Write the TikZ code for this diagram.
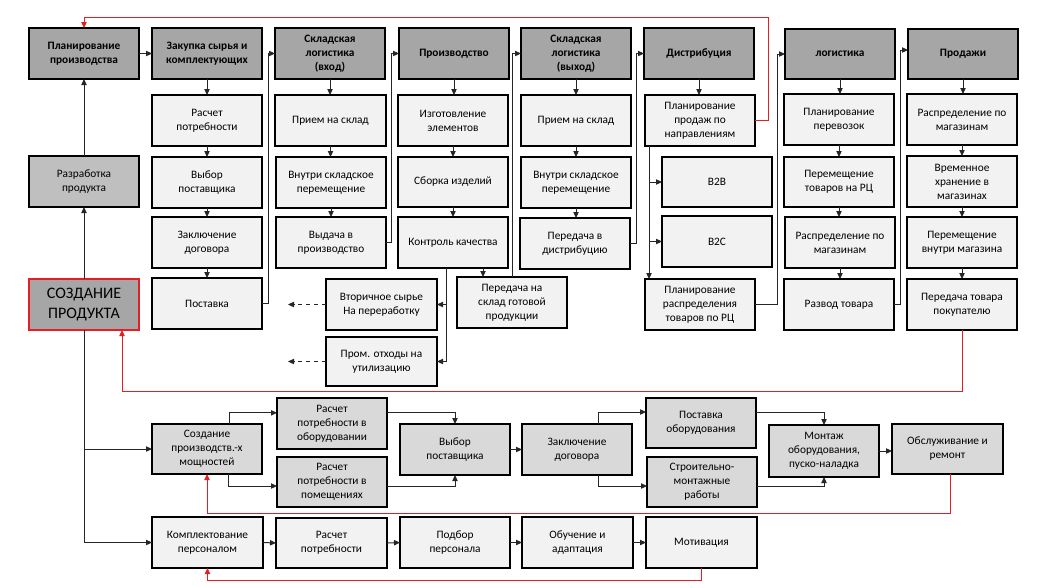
\documentclass[tikz,border=0pt]{standalone}
\usepackage{fontspec}
\setmainfont{Carlito}
\usetikzlibrary{arrows.meta,calc}
\definecolor{hdrgray}{RGB}{166,166,166}
\definecolor{devgray}{RGB}{191,191,191}
\definecolor{midgray}{RGB}{217,217,217}
\definecolor{litegray}{RGB}{242,242,242}
\definecolor{redline}{RGB}{228,30,36}
\newcommand\bx[7]{%
 \pgfmathsetmacro\bxw{(#5-#3)*0.75}%
 \pgfmathsetmacro\bxh{(#6-#4)*0.75}%
 \pgfmathsetmacro\bxx{(#3+#5)/2}%
 \pgfmathsetmacro\bxy{(#4+#6)/2}%
 \node[#2, minimum width=\bxw pt, minimum height=\bxh pt] (#1) at (\bxx,\bxy) {#7};}
\tikzset{
 basebox/.style={draw=black, line width=0.8pt, rectangle, inner sep=1pt, outer sep=0pt, align=center,
   font=\fontsize{8.5}{10.5}\selectfont},
 hdr/.style={basebox, fill=hdrgray, font=\fontsize{8.5}{10.5}\selectfont\bfseries},
 lite/.style={basebox, fill=litegray},
 mid/.style={basebox, fill=midgray},
 dev/.style={basebox, fill=devgray},
 big/.style={basebox, fill=hdrgray, draw=redline, font=\fontsize{12}{15}\selectfont},
 arr/.style={draw=black!85, line width=0.75pt, -{Triangle[length=4.5pt,width=4pt]}},
 redarr/.style={draw=redline, line width=0.75pt, -{Triangle[length=4.5pt,width=4pt]}},
 redln/.style={draw=redline, line width=0.75pt},
}
\begin{document}
\begin{tikzpicture}[x=0.75pt,y=-0.75pt]
\useasboundingbox (0,0) rectangle (1038,587);
% headers
\bx{h1}{hdr}{29}{28}{139}{79}{Планирование\\производства}
\bx{h2}{hdr}{152}{28}{262}{79}{Закупка сырья и\\комплектующих}
\bx{h3}{hdr}{275}{28}{385}{79}{Складская\\логистика\\(вход)}
\bx{h4}{hdr}{399}{28}{509}{79}{Производство}
\bx{h5}{hdr}{521}{28}{631}{79}{Складская\\логистика\\(выход)}
\bx{h6}{hdr}{644}{28}{754}{79}{Дистрибуция}
\bx{h7}{hdr}{785}{29}{895}{79}{логистика}
\bx{h8}{hdr}{908}{29}{1018}{79}{Продажи}
% column Закупка
\bx{a1}{lite}{152}{95}{262}{146}{Расчет\\потребности}
\bx{a2}{lite}{152}{157}{262}{208}{Выбор\\поставщика}
\bx{a3}{lite}{152}{217}{262}{268}{Заключение\\договора}
\bx{a4}{lite}{152}{278}{262}{329}{Поставка}
% column склад вход
\bx{b1}{lite}{275}{95}{386}{146}{Прием на склад}
\bx{b2}{lite}{276}{157}{386}{208}{Внутри складское\\перемещение}
\bx{b3}{lite}{276}{217}{386}{268}{Выдача в\\производство}
% column Производство
\bx{c1}{lite}{398}{95}{508}{146}{Изготовление\\элементов}
\bx{c2}{lite}{398}{157}{508}{207}{Сборка изделий}
\bx{c3}{lite}{398}{217}{508}{268}{Контроль качества}
\bx{c4}{lite}{457}{277}{567}{328}{Передача на\\склад готовой\\продукции}
\bx{c5}{lite}{326}{279}{437}{330}{Вторичное сырье\\На переработку}
\bx{c6}{lite}{326}{337}{437}{386}{Пром. отходы на\\утилизацию}
% column склад выход
\bx{d1}{lite}{521}{95}{631}{146}{Прием на склад}
\bx{d2}{lite}{521}{157}{631}{208}{Внутри складское\\перемещение}
\bx{d3}{lite}{520}{218}{630}{269}{Передача в\\дистрибуцию}
% column Дистрибуция
\bx{e1}{lite}{645}{95}{755}{146}{Планирование\\продаж по\\направлениям}
\bx{e2}{lite}{662}{157}{772}{207}{B2B}
\bx{e3}{lite}{662}{216}{772}{267}{B2C}
\bx{e4}{lite}{645}{279}{755}{330}{Планирование\\распределения\\товаров по РЦ}
% column логистика
\bx{f1}{lite}{784}{94}{894}{145}{Планирование\\перевозок}
\bx{f2}{lite}{784}{157}{894}{207}{Перемещение\\товаров на РЦ}
\bx{f3}{lite}{785}{217}{895}{268}{Распределение по\\магазинам}
\bx{f4}{lite}{784}{279}{894}{330}{Развод товара}
% column Продажи
\bx{g1}{lite}{907}{94}{1017}{145}{Распределение по\\магазинам}
\bx{g2}{lite}{907}{156}{1017}{207}{Временное\\хранение в\\магазинах}
\bx{g3}{lite}{907}{217}{1017}{268}{Перемещение\\внутри магазина}
\bx{g4}{lite}{907}{279}{1017}{330}{Передача товара\\покупателю}
% left column
\bx{L1}{dev}{29}{156}{139}{207}{Разработка\\продукта}
\bx{L2}{big}{29}{279}{139}{330}{СОЗДАНИЕ\\ПРОДУКТА}
% bottom middle row
\bx{m1}{mid}{152}{424}{262}{474}{Создание\\производств.-х\\мощностей}
\bx{m2}{mid}{277}{398}{387}{449}{Расчет\\потребности в\\оборудовании}
\bx{m3}{mid}{277}{457}{387}{507}{Расчет\\потребности в\\помещениях}
\bx{m4}{mid}{400}{424}{510}{475}{Выбор\\поставщика}
\bx{m5}{mid}{522}{424}{632}{475}{Заключение\\договора}
\bx{m6}{mid}{646}{398}{756}{448}{Поставка\\оборудования}
\bx{m7}{mid}{647}{457}{757}{507}{Строительно-\\монтажные\\работы}
\bx{m8}{mid}{769}{425}{879}{477}{Монтаж\\оборудования,\\пуско-наладка}
\bx{m9}{mid}{892}{424}{1003}{474}{Обслуживание и\\ремонт}
% bottom row
\bx{n1}{lite}{152}{517}{263}{568}{Комплектование\\персоналом}
\bx{n2}{lite}{276}{518}{387}{568}{Расчет\\потребности}
\bx{n3}{lite}{400}{517}{510}{568}{Подбор\\персонала}
\bx{n4}{lite}{522}{517}{633}{568}{Обучение и\\адаптация}
\bx{n5}{lite}{646}{517}{757}{568}{Мотивация}

% top flow
\draw[arr] (h1.east) -- (h2.west);
\foreach \u/\v in {h2/a1,a1/a2,a2/a3,a3/a4,h3/b1,b1/b2,b2/b3,h4/c1,c1/c2,c2/c3,h5/d1,d1/d2,d2/d3,h6/e1,h7/f1,f1/f2,f2/f3,f3/f4,h8/g1,g1/g2,g2/g3,g3/g4}
  \draw[arr] (\u.south) -- (\u.south |- \v.north);
\draw[arr] (a4.east) -- ++(6,0) |- (h3.west);
\draw[arr] (b3.east) -- ++(5,0) |- (h4.west);
\draw[arr] (c4.north) |- (h5.west);
\draw[arr] ([xshift=-21.75pt]c4.north |- c3.south) -- ([xshift=-21.75pt]c4.north);
\draw[arr] ([xshift=-5.25pt]c3.south) |- (c5.east);
\draw[arr] ([xshift=-5.25pt]c3.south) |- (c6.east);
\coordinate (w1) at (288,304.5);
\coordinate (w2) at (288,361.5);
\draw[arr,dashed] (c5.west) -- (w1);
\draw[arr,dashed] (c6.west) -- (w2);
\draw[arr] (d3.east) -- ++(6,0) |- (h6.west);
\draw[arr] ([xshift=3pt]e1.south west) -- ([xshift=3pt]e4.north west);
\draw[arr] ([xshift=3pt]e1.south west) |- (e2.west);
\draw[arr] ([xshift=3pt]e1.south west) |- (e3.west);
\draw[arr] (e4.east) -- ++(22,0) |- (h7.west);
\draw[arr] (f4.east) -- ++(6,0) |- ([yshift=3pt]h8.west);
% red feedback top
\draw[redarr] (e1.east) -- ++(13,0) |- ([yshift=8.25pt]h1.north) -- (h1.north);
\draw[redarr] (g4.south) -- ++(0,61) -| ([xshift=28.5pt]L2.south);
% left column
\draw[arr] (L1.north) -- (h1.south);
\draw[arr] (L2.north) -- (L1.south);
\draw[arr] (L2.south) |- (m1.west);
\draw[arr] (L2.south) |- (n1.west);
% bottom middle flow
\draw[arr] ([xshift=16.5pt]m1.north) |- ([yshift=8pt]m2.west);
\draw[arr] ([xshift=15.75pt]m1.south) |- ([yshift=-3pt]m3.west);
\draw[arr] ([yshift=8pt]m2.east) -| (m4.north);
\draw[arr] ([yshift=-3pt]m3.east) -| (m4.south);
\draw[arr] (m4.east) -- (m5.west);
\draw[arr] ([xshift=15.75pt]m5.north) |- ([yshift=8.25pt]m6.west);
\draw[arr] ([xshift=15.75pt]m5.south) |- ([yshift=-3pt]m7.west);
\draw[arr] ([yshift=8.25pt]m6.east) -| (m8.north);
\draw[arr] ([yshift=-3.5pt]m7.east) -| (m8.south);
\draw[arr] (m8.east) -- (m8.east -| m9.west);
\draw[redarr] ([xshift=2.6pt]m9.south) -- ++(0,39) -| (m1.south);
% bottom row
\draw[arr] (n1.east) -- (n2.west);
\draw[arr] (n2.east) -- (n3.west);
\draw[arr] (n3.east) -- (n4.west);
\draw[arr] (n4.east) -- (n5.west);
\draw[redarr] (n5.south) -- ++(0,12) -| (n1.south);
\end{tikzpicture}
\end{document}
